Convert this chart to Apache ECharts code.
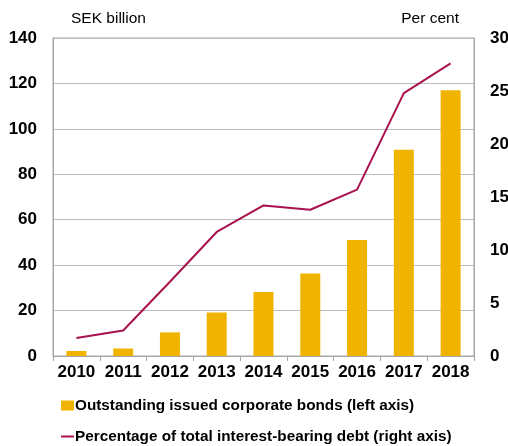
<!DOCTYPE html>
<html>
<head>
<meta charset="utf-8">
<script src="https://cdn.jsdelivr.net/npm/echarts@6/dist/echarts.min.js"></script>
<style>
  html, body { margin: 0; padding: 0; background: #fff; }
  #chart { width: 508px; height: 446px; }
</style>
</head>
<body>
<div id="chart"></div>
<script>
// Corporate bond market, Sweden 2010-2018
const years = ['2010', '2011', '2012', '2013', '2014', '2015', '2016', '2017', '2018'];
const bondsOutstanding = [2.2, 3.3, 10.4, 19.2, 28.2, 36.3, 51.1, 90.8, 117.0];   // SEK billion
const shareOfDebt = [1.7, 2.4, 7.0, 11.7, 14.2, 13.8, 15.7, 24.8, 27.6];         // per cent
const leftTicks = { min: 0, max: 140, interval: 20 };
const rightTicks = { min: 0, max: 30, interval: 5 };

const barName = 'Outstanding issued corporate bonds (left axis)';
const lineName = 'Percentage of total interest-bearing debt (right axis)';

const FONT = '"Liberation Sans", Arial, sans-serif';
const GRID_GREY = '#BDBDBD';
const AXIS_GREY = '#A6A6A6';
const BAR_GOLD = '#F0B400';
const LINE_RED = '#A8124E';

const legendText = { fontFamily: FONT, fontSize: 15.3, fontWeight: 'bold', color: '#000', padding: [0, 0, 0, -4] };
const tickLabel = { color: '#000', fontSize: 17, fontWeight: 'bold', fontFamily: FONT };

const chart = echarts.init(document.getElementById('chart'), null, { renderer: 'canvas' });
chart.setOption({
  animation: false,
  textStyle: { fontFamily: FONT },
  grid: {
    left: 53, right: 34, top: 38, bottom: 90,
    outerBoundsMode: 'none',
    containLabel: false,
    show: true, borderColor: AXIS_GREY, borderWidth: 1
  },
  legend: [
    {
      left: 56, top: 393,
      itemWidth: 13, itemHeight: 10,
      textStyle: legendText,
      data: [{ name: barName, icon: 'rect' }]
    },
    {
      left: 56, top: 424,
      itemWidth: 13, itemHeight: 2,
      textStyle: legendText,
      data: [{ name: lineName, icon: 'rect' }]
    }
  ],
  xAxis: {
    type: 'category',
    data: years,
    axisLine: { lineStyle: { color: AXIS_GREY } },
    axisTick: { show: true, length: 5, lineStyle: { color: AXIS_GREY } },
    axisLabel: Object.assign({ margin: 8, interval: 0 }, tickLabel)
  },
  yAxis: [
    {
      type: 'value',
      min: leftTicks.min, max: leftTicks.max, interval: leftTicks.interval,
      name: 'SEK billion',
      nameLocation: 'end',
      nameGap: 11,
      nameTextStyle: { color: '#000', fontSize: 15.5, fontFamily: FONT, align: 'left', padding: [0, 0, 0, 18] },
      axisLine: { show: true, lineStyle: { color: AXIS_GREY } },
      axisTick: { show: false },
      axisLabel: Object.assign({ margin: 16 }, tickLabel),
      splitLine: { show: true, lineStyle: { color: GRID_GREY } }
    },
    {
      type: 'value',
      min: rightTicks.min, max: rightTicks.max, interval: rightTicks.interval,
      name: 'Per cent',
      nameLocation: 'end',
      nameGap: 11,
      nameTextStyle: { color: '#000', fontSize: 15.5, fontFamily: FONT, align: 'right', padding: [0, 15, 0, 0] },
      axisLine: { show: true, lineStyle: { color: AXIS_GREY } },
      axisTick: { show: false },
      axisLabel: Object.assign({ margin: 16 }, tickLabel),
      splitLine: { show: false }
    }
  ],
  series: [
    {
      name: barName,
      type: 'bar',
      yAxisIndex: 0,
      data: bondsOutstanding,
      barWidth: 20,
      itemStyle: { color: BAR_GOLD }
    },
    {
      name: lineName,
      type: 'line',
      yAxisIndex: 1,
      data: shareOfDebt,
      symbol: 'none',
      lineStyle: { color: LINE_RED, width: 2 },
      itemStyle: { color: LINE_RED }
    }
  ]
});
</script>
</body>
</html>
